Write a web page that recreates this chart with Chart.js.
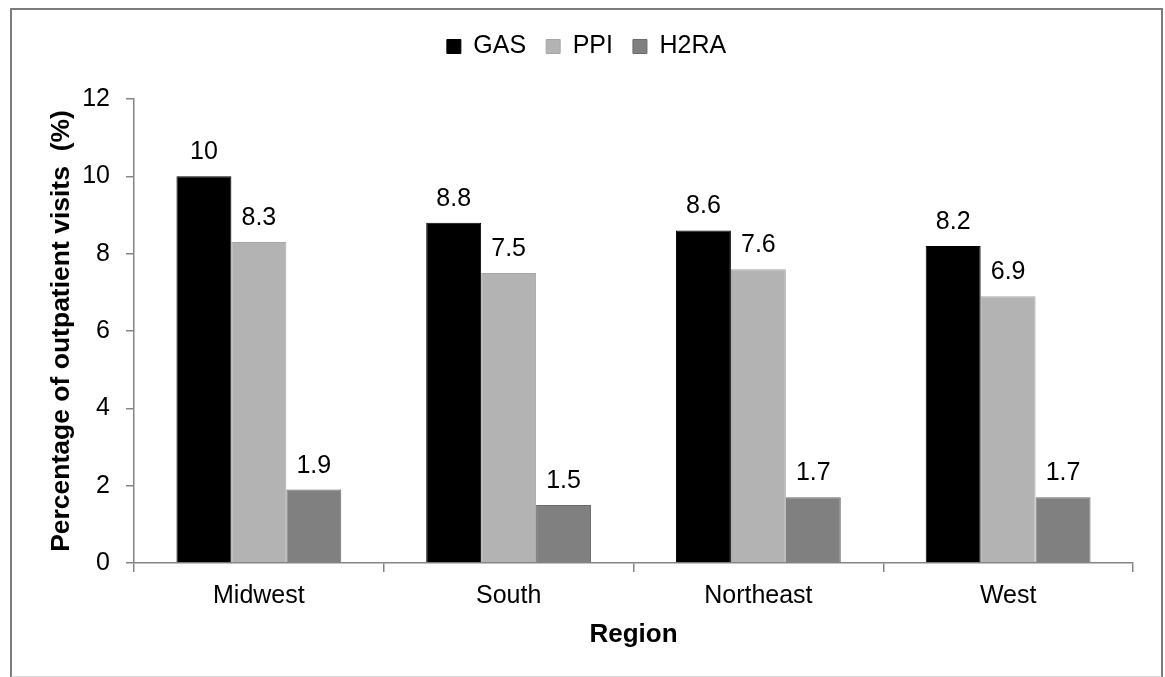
<!DOCTYPE html>
<html>
<head>
<meta charset="utf-8">
<script src="https://cdn.jsdelivr.net/npm/chart.js@4.4.1/dist/chart.umd.min.js"></script>
<style>
  html, body { margin: 0; padding: 0; background: #fff; }
  #wrap { position: relative; width: 1165px; height: 677px; }
  #frame {
    position: absolute; left: 10px; top: 8px; width: 1153px; height: 670px;
    border: 2px solid #7c7c7c; border-bottom-color: #d8d8d8; box-sizing: border-box;
  }
  #chart { position: absolute; left: 0; top: 0; }
</style>
</head>
<body>
<div id="wrap">
  <div id="frame"></div>
  <canvas id="chart" width="1165" height="677"></canvas>
</div>
<script>
// values
var regions = ['Midwest', 'South', 'Northeast', 'West'];
var gas = [10, 8.8, 8.6, 8.2];
var ppi = [8.3, 7.5, 7.6, 6.9];
var h2ra = [1.9, 1.5, 1.7, 1.7];
var yTicks = [0, 2, 4, 6, 8, 10, 12];

var FAMILY = "'Liberation Sans', Arial, sans-serif";
var AXIS = '#858585';

// draws the number above each bar
var valueLabels = {
  id: 'valueLabels',
  afterDatasetsDraw: function (chart) {
    var ctx = chart.ctx;
    ctx.save();
    ctx.font = '25px ' + FAMILY;
    ctx.fillStyle = '#000';
    ctx.textAlign = 'center';
    ctx.textBaseline = 'alphabetic';
    chart.data.datasets.forEach(function (ds, i) {
      chart.getDatasetMeta(i).data.forEach(function (bar, j) {
        ctx.fillText(String(ds.data[j]), bar.x, bar.y - 17);
      });
    });
    ctx.restore();
  }
};

new Chart(document.getElementById('chart'), {
  type: 'bar',
  data: {
    labels: regions,
    datasets: [
      { label: 'GAS', data: gas, backgroundColor: '#000000', borderColor: '#000000', borderWidth: 1 },
      { label: 'PPI', data: ppi, backgroundColor: '#b3b3b3', borderColor: '#a6a6a6', borderWidth: 1 },
      { label: 'H2RA', data: h2ra, backgroundColor: '#808080', borderColor: '#6a6a6a', borderWidth: 1 }
    ]
  },
  options: {
    responsive: false,
    animation: false,
    categoryPercentage: 0.66,
    barPercentage: 1.0,
    layout: { padding: { left: 40, right: 32, top: 14, bottom: 27 } },
    plugins: {
      legend: {
        position: 'top',
        labels: {
          boxWidth: 14, boxHeight: 14, padding: 20, color: '#000',
          font: { family: FAMILY, size: 25 }
        }
      },
      // empty title used as a spacer between legend and plot
      title: {
        display: true, text: '', weight: 500,
        padding: { top: 0, bottom: 0 },
        font: { family: FAMILY, size: 30, lineHeight: 1 }
      },
      tooltip: { enabled: false }
    },
    scales: {
      x: {
        grid: { drawOnChartArea: false, drawTicks: true, tickLength: 9, color: AXIS, lineWidth: 1.5 },
        border: { color: AXIS, width: 1.5 },
        ticks: { color: '#000', padding: 9, font: { family: FAMILY, size: 25 } },
        title: {
          display: true, text: 'Region', color: '#000',
          padding: { top: 0, bottom: 0 },
          font: { family: FAMILY, size: 26, weight: 'bold' }
        },
        afterFit: function (scale) { scale.height = 87; }
      },
      y: {
        min: 0, max: 12,
        afterBuildTicks: function (scale) {
          scale.ticks = yTicks.map(function (v) { return { value: v }; });
        },
        grid: { drawOnChartArea: false, drawTicks: true, tickLength: 8, color: AXIS, lineWidth: 1.5 },
        border: { color: AXIS, width: 1.5 },
        ticks: { color: '#000', padding: 16, font: { family: FAMILY, size: 25 } },
        title: {
          display: true, text: 'Percentage of outpatient visits  (%)', color: '#000',
          padding: { top: 6, bottom: 0 },
          font: { family: FAMILY, size: 26.5, weight: 'bold' }
        },
        afterFit: function (scale) { scale.width = 94; }
      }
    }
  },
  plugins: [valueLabels]
});
</script>
</body>
</html>
